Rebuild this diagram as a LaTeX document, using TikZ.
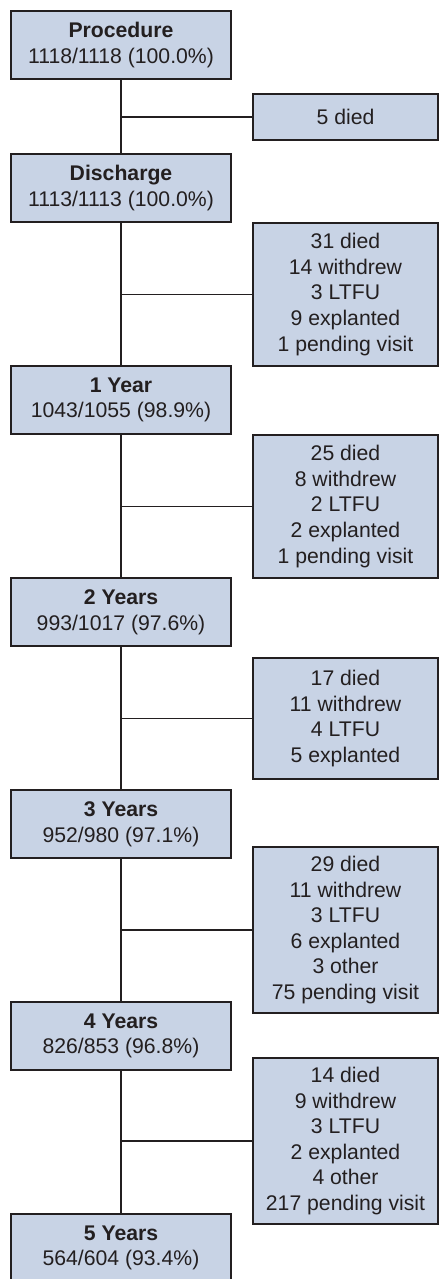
\documentclass[tikz,border=0pt]{standalone}
\usepackage{fontspec}
\setmainfont{Liberation Sans}
\definecolor{boxfill}{RGB}{200,211,229}
\definecolor{boxline}{RGB}{35,31,32}
\tikzset{
  base/.style={draw=boxline, line width=2pt, fill=boxfill, anchor=north west,
    inner sep=0pt, align=center, text=boxline,
    font=\fontsize{21.2}{25.6}\selectfont},
  leftbox/.style={base, minimum width=220pt, minimum height=68pt},
  rightbox/.style={base, minimum width=185pt},
  conn/.style={draw=boxline, line width=1.7pt}
}
\begin{document}
\begin{tikzpicture}[x=1pt,y=-1pt]
\useasboundingbox (0,0) rectangle (439,1279);
\node[leftbox] (p) at (10,10) {\textbf{Procedure}\\1118/1118 (100.0\%)};
\node[leftbox] (d) at (10,153) {\textbf{Discharge}\\1113/1113 (100.0\%)};
\node[leftbox] (y1) at (10,365) {\textbf{1 Year}\\1043/1055 (98.9\%)};
\node[leftbox] (y2) at (10,577) {\textbf{2 Years}\\993/1017 (97.6\%)};
\node[leftbox] (y3) at (10,789) {\textbf{3 Years}\\952/980 (97.1\%)};
\node[leftbox] (y4) at (10,1001) {\textbf{4 Years}\\826/853 (96.8\%)};
\node[leftbox] (y5) at (10,1213) {\textbf{5 Years}\\564/604 (93.4\%)};

\node[rightbox, minimum height=46pt] (r1) at (252,93) {5 died};
\node[rightbox, minimum height=143pt] (r2) at (252,222) {31 died\\14 withdrew\\3 LTFU\\9 explanted\\1 pending visit};
\node[rightbox, minimum height=143pt] (r3) at (252,434) {25 died\\8 withdrew\\2 LTFU\\2 explanted\\1 pending visit};
\node[rightbox, minimum height=121pt] (r4) at (252,657) {17 died\\11 withdrew\\4 LTFU\\5 explanted};
\node[rightbox, minimum height=166pt] (r5) at (252,846) {29 died\\11 withdrew\\3 LTFU\\6 explanted\\3 other\\75 pending visit};
\node[rightbox, minimum height=166pt] (r6) at (252,1057) {14 died\\9 withdrew\\3 LTFU\\2 explanted\\4 other\\217 pending visit};

\draw[conn] (p.south) -- (d.north);
\draw[conn] (d.south) -- (y1.north);
\draw[conn] (y1.south) -- (y2.north);
\draw[conn] (y2.south) -- (y3.north);
\draw[conn] (y3.south) -- (y4.north);
\draw[conn] (y4.south) -- (y5.north);

\draw[conn] (r1.west) -- (r1.west -| p.south);
\draw[conn] (r2.west) -- (r2.west -| d.south);
\draw[conn] (r3.west) -- (r3.west -| y1.south);
\draw[conn] (r4.west) -- (r4.west -| y2.south);
\draw[conn] (r5.west) -- (r5.west -| y3.south);
\draw[conn] (r6.west) -- (r6.west -| y4.south);
\end{tikzpicture}
\end{document}
